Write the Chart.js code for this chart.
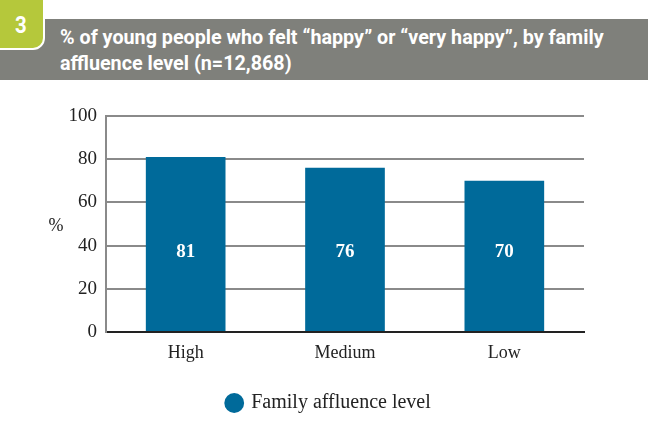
<!DOCTYPE html>
<html>
<head>
<meta charset="utf-8">
<script src="https://cdn.jsdelivr.net/npm/chart.js@4/dist/chart.umd.min.js"></script>
<style>
    body { margin: 0; background: #fff; }
    #wrap { position: relative; width: 648px; height: 435px; overflow: hidden; }
    #band { position: absolute; left: 0; top: 19px; width: 648px; height: 61px; background: #7f807b; }
    #badge { position: absolute; left: -14px; top: -12px; width: 55px; height: 58px; background: #b5c83b;
             border: 2px solid #fff; border-radius: 12px; color: #fff;
             font: bold 24px Roboto, sans-serif; }
    #badge span { position: absolute; left: 26px; top: 21px; transform: scaleX(0.85); }
    #title { position: absolute; left: 60px; top: 24px; color: #fff; white-space: nowrap;
             font: bold 21px Roboto, sans-serif; line-height: 26px; transform-origin: 0 0; }
    #title div { display: inline-block; }
    canvas { position: absolute; left: 0; top: 0; }
</style>
</head>
<body>
<div id="wrap">
    <div id="band"></div>
    <div id="badge"><span>3</span></div>
    <div id="title"><div id="line1">% of young people who felt “happy” or “very happy”, by family</div><br><div>affluence level (n=12,868)</div></div>
    <canvas id="chart" width="648" height="435"></canvas>
</div>
<script>
// Dados do gráfico
const categories = ['High', 'Medium', 'Low'];
const happyValues = [81, 76, 70];
const seriesLabel = 'Family affluence level';
const yTicks = [0, 20, 40, 60, 80, 100];

// Ajustar o título condensado à largura do original
const line1 = document.getElementById('line1');
const titleScale = 544 / line1.offsetWidth;
document.getElementById('title').style.transform = 'scaleX(' + titleScale + ')';

const barColor = '#006a9a';
const serif = 'Liberation Serif';
Chart.defaults.font.family = serif;
Chart.defaults.color = '#222';

// Plugin para rótulos dentro das barras, o "%" do eixo e a posição da legenda
const labelsPlugin = {
    id: 'labelsPlugin',
    afterLayout(chart) {
        // centralizar a legenda como no original
        chart.legend.left = 10;
        chart.legend.right = 648;
        chart.legend.width = 638;
    },
    afterDatasetsDraw(chart) {
        const ctx = chart.ctx;
        const meta = chart.getDatasetMeta(0);
        const yScale = chart.scales.y;
        ctx.save();
        ctx.fillStyle = '#fff';
        ctx.font = 'bold 19px ' + serif;
        ctx.textAlign = 'center';
        ctx.textBaseline = 'middle';
        meta.data.forEach((bar, i) => {
            ctx.fillText(String(happyValues[i]), bar.x, yScale.getPixelForValue(37));
        });
        ctx.fillStyle = '#222';
        ctx.font = '18px ' + serif;
        ctx.fillText('%', 56, yScale.getPixelForValue(49));
        ctx.restore();
    }
};

const ctx = document.getElementById('chart');
new Chart(ctx.getContext('2d'), {
    type: 'bar',
    data: {
        labels: categories,
        datasets: [{
            label: seriesLabel,
            data: happyValues,
            backgroundColor: barColor,
            borderWidth: 0,
            barPercentage: 0.5,
            categoryPercentage: 1
        }]
    },
    options: {
        responsive: false,
        animation: false,
        layout: { padding: { top: 116, right: 64, bottom: 12, left: 0 } },
        plugins: {
            tooltip: { enabled: false },
            legend: {
                position: 'bottom',
                labels: {
                    usePointStyle: true,
                    pointStyle: 'circle',
                    boxWidth: 14,
                    boxHeight: 14,
                    padding: 12,
                    color: '#222',
                    font: { family: serif, size: 20 }
                }
            }
        },
        scales: {
            x: {
                grid: { display: false, drawTicks: false },
                border: { color: '#222', width: 2 },
                ticks: { color: '#222', padding: 10, font: { family: serif, size: 18 } },
                afterFit(scale) { scale.height = 49; }
            },
            y: {
                min: 0,
                max: 100,
                afterBuildTicks(scale) { scale.ticks = yTicks.map(v => ({ value: v })); },
                grid: { color: '#8a8a8a', lineWidth: 2, drawTicks: false },
                border: { color: '#8a8a8a', width: 2 },
                ticks: { color: '#222', padding: 9, font: { family: serif, size: 19 } },
                afterFit(scale) { scale.width = 106; }
            }
        }
    },
    plugins: [labelsPlugin]
});
</script>
</body>
</html>
